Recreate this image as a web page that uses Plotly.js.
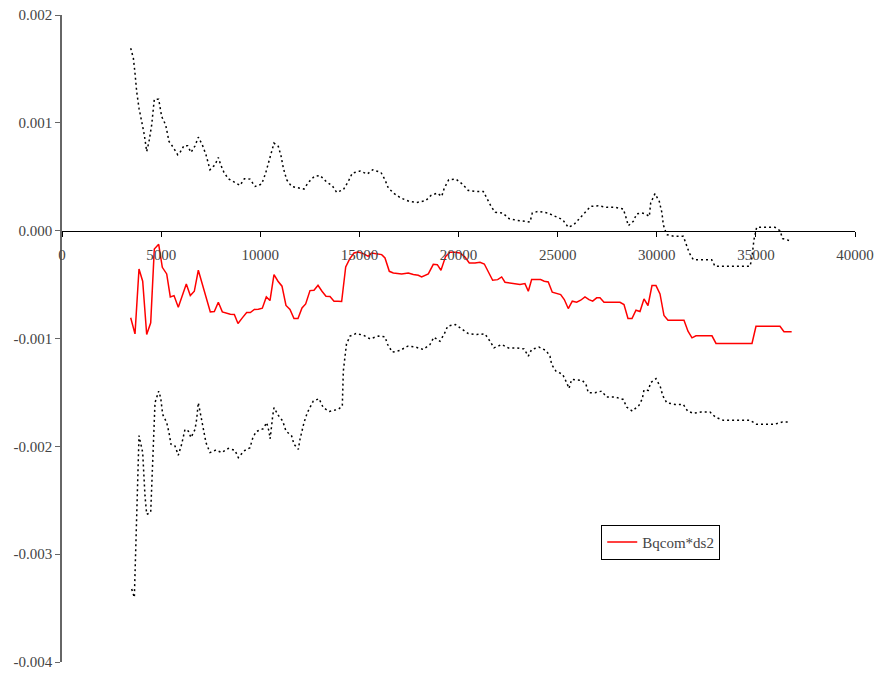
<!DOCTYPE html>
<html>
<head>
<meta charset="utf-8">
<script src="https://cdn.plot.ly/plotly-3.0.1.min.js"></script>
<style>html,body{margin:0;padding:0;background:#fff;}#chart{width:880px;height:677px;}</style>
</head>
<body>
<div id="chart"></div>
<script>
// Red series: Bqcom*ds2
const redX = [3465,3682,3884,4070,4272,4474,4656,4877,5060,5281,5463,5650,5866,6068,6270,6472,6674,6876,7077,7279,7481,7683,7885,8087,8289,8491,8693,8877,9095,9315,9500,9701,9903,10105,10306,10491,10693,10895,11097,11298,11500,11702,11904,12106,12291,12509,12711,12913,13114,13316,13518,13720,13921,14106,14310,14512,14728,14945,15197,15450,15620,15872,16125,16292,16510,16712,17132,17468,17720,17972,18141,18477,18729,18931,19116,19351,19570,19822,20074,20326,20545,20832,21084,21302,21504,21723,21975,22177,22345,22597,22849,23101,23353,23521,23689,23942,24144,24326,24528,24730,24952,25154,25336,25537,25739,25961,26163,26380,26582,26768,26970,27137,27339,28146,28347,28549,28751,28953,29155,29356,29558,29760,29962,30164,30365,30567,31374,31576,31778,31979,32786,32988,34804,35006,36216,36418,36805];
const redY = [-0.000808,-0.000957,-0.000355,-0.000469,-0.000963,-0.000855,-0.000170,-0.000127,-0.00034,-0.000401,-0.000614,-0.000602,-0.00071,-0.000602,-0.000494,-0.000602,-0.000562,-0.000367,-0.0005,-0.000639,-0.000753,-0.00075,-0.000664,-0.000753,-0.000765,-0.000775,-0.000778,-0.000861,-0.000809,-0.000759,-0.000759,-0.000731,-0.000728,-0.000719,-0.000614,-0.000648,-0.000407,-0.000469,-0.000515,-0.000694,-0.000731,-0.000815,-0.000815,-0.000716,-0.000679,-0.000556,-0.000553,-0.000506,-0.000562,-0.000608,-0.000611,-0.000654,-0.000654,-0.000657,-0.000336,-0.000262,-0.000207,-0.000198,-0.000213,-0.000238,-0.000207,-0.000213,-0.000222,-0.000253,-0.000377,-0.000392,-0.000401,-0.000392,-0.000407,-0.000414,-0.000429,-0.000401,-0.000312,-0.000315,-0.000367,-0.000238,-0.0002,-0.0002,-0.000207,-0.000244,-0.0003,-0.0003,-0.000293,-0.000309,-0.000377,-0.00046,-0.000454,-0.000429,-0.000478,-0.000485,-0.000491,-0.0005,-0.000491,-0.000562,-0.000454,-0.000454,-0.000454,-0.000469,-0.000475,-0.000571,-0.000583,-0.000593,-0.000639,-0.000722,-0.000654,-0.000664,-0.000645,-0.000614,-0.000639,-0.000654,-0.000623,-0.000623,-0.000664,-0.000664,-0.000685,-0.000815,-0.000815,-0.000738,-0.00075,-0.000633,-0.000694,-0.000509,-0.000509,-0.000586,-0.000787,-0.00083,-0.00083,-0.000932,-0.000994,-0.000975,-0.000975,-0.001046,-0.001046,-0.000886,-0.000886,-0.000938,-0.000938];

// Upper dotted bound
const upX = [3465,3600,3682,3767,3884,4017,4152,4272,4389,4524,4656,4877,5028,5230,5397,5617,5836,5952,6154,6337,6507,6709,6876,7077,7263,7465,7717,7885,8004,8171,8390,8726,8978,9196,9483,9735,10072,10273,10441,10577,10693,10912,11047,11164,11332,11584,11836,12207,12425,12728,13013,13349,13633,13856,14190,14442,14644,15031,15400,15670,16090,16292,16460,16762,17099,17503,17922,18346,18612,18931,19153,19284,19507,19874,20192,20494,20882,21250,21452,21672,21856,22227,22563,22967,23404,23606,23723,24026,24500,24883,25255,25537,25825,26128,26415,26667,27050,27473,27893,28312,28448,28566,28818,28986,29239,29440,29624,29693,29910,30127,30264,30330,30500,30869,31340,31474,31642,31843,32771,32938,34703,34787,34904,35040,35963,36216,36351,36720];
const upY = [0.001692,0.0016,0.00146,0.00129,0.001136,0.001028,0.000889,0.000734,0.000827,0.000981,0.001219,0.001219,0.001058,0.000981,0.000827,0.000771,0.000704,0.000725,0.00079,0.000787,0.000725,0.000787,0.000867,0.000796,0.000704,0.000565,0.000611,0.000679,0.000611,0.00054,0.000481,0.000447,0.00042,0.000481,0.000478,0.00041,0.000432,0.000534,0.000642,0.000741,0.000812,0.000781,0.000694,0.000581,0.000472,0.00041,0.000401,0.000386,0.000447,0.000503,0.000512,0.000451,0.000417,0.000355,0.00038,0.000457,0.000534,0.000553,0.000525,0.000565,0.00054,0.000472,0.000395,0.000343,0.000302,0.000272,0.000262,0.000278,0.000327,0.000349,0.000318,0.000395,0.000472,0.000478,0.000432,0.000373,0.000364,0.000364,0.000293,0.000216,0.00017,0.000164,0.000111,0.000095,0.000086,0.00008,0.000164,0.000179,0.000164,0.000132,0.000102,0.000031,0.000056,0.000118,0.000179,0.000225,0.000231,0.000216,0.000216,0.000201,0.000123,0.000046,0.000086,0.000155,0.000164,0.000155,0.000132,0.000256,0.000343,0.000272,0.000164,0.000056,-0.000037,-0.000052,-0.000052,-0.000123,-0.000207,-0.000269,-0.000269,-0.00033,-0.00033,-0.000269,-0.000083,0.000031,0.000031,0,-0.000074,-0.000093];

// Lower dotted bound
const loX = [3515,3649,3884,4070,4186,4272,4474,4524,4607,4691,4877,4977,5078,5281,5397,5498,5700,5866,6035,6204,6371,6507,6709,6792,6876,7011,7128,7263,7465,7768,8054,8390,8726,8894,9180,9483,9618,9785,10156,10325,10440,10500,10627,10693,10912,11131,11298,11584,11702,11920,12005,12207,12373,12676,12963,13180,13483,13937,14139,14159,14190,14350,14527,14829,15197,15536,15957,16292,16427,16661,17049,17436,17839,18225,18561,18763,19066,19284,19453,19838,20192,20494,20916,21336,21588,21790,22177,22513,22900,23303,23521,23689,24060,24413,24615,24699,24917,25255,25457,25573,25708,25961,26244,26431,26547,26885,27222,27473,27893,28312,28480,28768,29105,29272,29356,29574,29693,29962,30180,30298,30500,30920,31340,31558,31843,32231,32685,32954,33357,34703,35040,35931,36334,36755];
const loY = [-0.003324,-0.003401,-0.0019,-0.002058,-0.00246,-0.00263,-0.002614,-0.002367,-0.001904,-0.001595,-0.001488,-0.001549,-0.001704,-0.00178,-0.001873,-0.001981,-0.001997,-0.002083,-0.001981,-0.001843,-0.001858,-0.001919,-0.001843,-0.00175,-0.001595,-0.001734,-0.001843,-0.001966,-0.002058,-0.002034,-0.002058,-0.002019,-0.002037,-0.002105,-0.002043,-0.002012,-0.001926,-0.001864,-0.001836,-0.00178,-0.00186,-0.00193,-0.001719,-0.001642,-0.001713,-0.001765,-0.001858,-0.001904,-0.001981,-0.002028,-0.001935,-0.00178,-0.001688,-0.00158,-0.001558,-0.001642,-0.001676,-0.001657,-0.001627,-0.001472,-0.001302,-0.00105,-0.000978,-0.000954,-0.000969,-0.001003,-0.000978,-0.000985,-0.001056,-0.001127,-0.001111,-0.001071,-0.00108,-0.001102,-0.001056,-0.000988,-0.001025,-0.000957,-0.000886,-0.00087,-0.000917,-0.000954,-0.000963,-0.000957,-0.001025,-0.001087,-0.001056,-0.001087,-0.001087,-0.001096,-0.001164,-0.001102,-0.00108,-0.001111,-0.001164,-0.001241,-0.001303,-0.001333,-0.00141,-0.001463,-0.00138,-0.001386,-0.001389,-0.001426,-0.001503,-0.001503,-0.001488,-0.001543,-0.001543,-0.001565,-0.001636,-0.001673,-0.00162,-0.001558,-0.001478,-0.001481,-0.00141,-0.001373,-0.001447,-0.001528,-0.001596,-0.001611,-0.001611,-0.001673,-0.001694,-0.001682,-0.001682,-0.001728,-0.001759,-0.001759,-0.001796,-0.001796,-0.001775,-0.001775];

const seriesName = 'Bqcom*ds2';
const yTickVals = [-0.004,-0.003,-0.002,-0.001,0,0.001,0.002];
const yTickText = ['-0.004','-0.003','-0.002','-0.001','0.000','0.001','0.002'];
const xTickVals = [0,5000,10000,15000,20000,25000,30000,35000,40000];
const xTickText = ['0','5000','10000','15000','20000','25000','30000','35000','40000'];

const dotStyle = {color:'#000', width:1.5, dash:'2px,3px'};

const traces = [
  {x: upX, y: upY, mode:'lines', line: dotStyle, showlegend:false, hoverinfo:'skip'},
  {x: loX, y: loY, mode:'lines', line: dotStyle, showlegend:false, hoverinfo:'skip'},
  {x: redX, y: redY, mode:'lines', name: seriesName, line:{color:'#ff0000', width:1.5}}
];

const layout = {
  width: 880, height: 677,
  margin: {l:62, r:25, t:15, b:15},
  xaxis: {
    range:[0,40000], anchor:'free', position: 4/6,
    tickmode:'array', tickvals:xTickVals, ticktext:xTickText,
    ticks:'outside', ticklen:5, tickcolor:'#000',
    showline:true, linecolor:'#000', linewidth:1,
    showgrid:false, zeroline:false,
    tickfont:{family:'Times New Roman', size:15},
    ticklabelstandoff: 5
  },
  yaxis: {
    range:[-0.004,0.002],
    tickmode:'array', tickvals:yTickVals, ticktext:yTickText,
    ticks:'outside', ticklen:5, tickcolor:'#666',
    showline:true, linecolor:'#666', linewidth:1.5,
    showgrid:false, zeroline:false,
    tickfont:{family:'Times New Roman', size:15}
  },
  legend: {
    x:0.68, y:0.212, xanchor:'left', yanchor:'top',
    bordercolor:'#000', borderwidth:1,
    font:{family:'Times New Roman', size:15}
  },
  showlegend:true
};

Plotly.newPlot('chart', traces, layout, {displayModeBar:false});
</script>
</body>
</html>
